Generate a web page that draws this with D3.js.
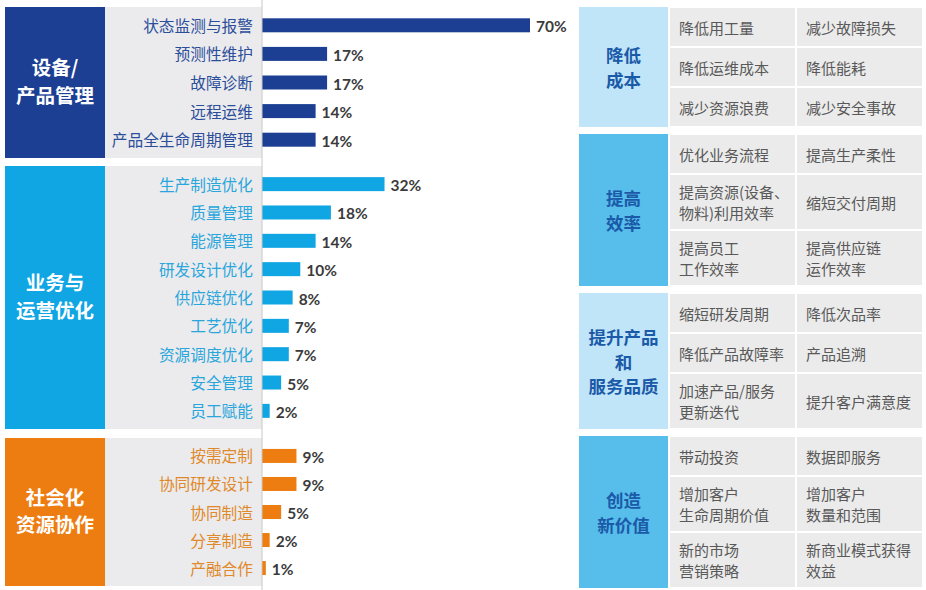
<!DOCTYPE html>
<html>
<head>
<meta charset="utf-8">
<script src="https://cdn.jsdelivr.net/npm/d3@7"></script>
<style>
  body { margin: 0; background: #fff; }
  svg { display: block; font-family: "Noto Sans CJK SC", "Noto Sans", sans-serif; }
</style>
</head>
<body>
<div id="chart"></div>
<script>
var svgWidth = 926;
var svgHeight = 590;

// left side: application scenarios and share of respondents (%)
var groupTitles = [["设备/", "产品管理"], ["业务与", "运营优化"], ["社会化", "资源协作"]];
var deviceLabels = ["状态监测与报警", "预测性维护", "故障诊断", "远程运维", "产品全生命周期管理"];
var deviceValues = [70, 17, 17, 14, 14];
var opsLabels = ["生产制造优化", "质量管理", "能源管理", "研发设计优化", "供应链优化", "工艺优化", "资源调度优化", "安全管理", "员工赋能"];
var opsValues = [32, 18, 14, 10, 8, 7, 7, 5, 2];
var socialLabels = ["按需定制", "协同研发设计", "协同制造", "分享制造", "产融合作"];
var socialValues = [9, 9, 5, 2, 1];

// right side: value table
var benefitTitles = [["降低", "成本"], ["提高", "效率"], ["提升产品", "和", "服务品质"], ["创造", "新价值"]];
var costCells = [["降低用工量", "减少故障损失"], ["降低运维成本", "降低能耗"], ["减少资源浪费", "减少安全事故"]];
var efficiencyCells = [["优化业务流程", "提高生产柔性"], ["提高资源(设备、\n物料)利用效率", "缩短交付周期"], ["提高员工\n工作效率", "提高供应链\n运作效率"]];
var qualityCells = [["缩短研发周期", "降低次品率"], ["降低产品故障率", "产品追溯"], ["加速产品/服务\n更新迭代", "提升客户满意度"]];
var valueCells = [["带动投资", "数据即服务"], ["增加客户\n生命周期价值", "增加客户\n数量和范围"], ["新的市场\n营销策略", "新商业模式获得\n效益"]];

var leftGroups = [
  { title: groupTitles[0], labels: deviceLabels, values: deviceValues, box: "#1c3f94", bar: "#1c3f94", text: "#2b4e9b", y0: 7, y1: 158 },
  { title: groupTitles[1], labels: opsLabels, values: opsValues, box: "#10a5e3", bar: "#10a5e3", text: "#2aa6dc", y0: 166, y1: 429 },
  { title: groupTitles[2], labels: socialLabels, values: socialValues, box: "#ee7d11", bar: "#ee7d11", text: "#e0892a", y0: 438, y1: 586 }
];

var rightGroups = [
  { title: benefitTitles[0], rows: costCells, fill: "#c0e4f8" },
  { title: benefitTitles[1], rows: efficiencyCells, fill: "#57bdea" },
  { title: benefitTitles[2], rows: qualityCells, fill: "#c0e4f8" },
  { title: benefitTitles[3], rows: valueCells, fill: "#57bdea" }
];

var svg = d3.select("#chart")
  .append("svg")
  .attr("width", svgWidth)
  .attr("height", svgHeight);

var axisX = 262;
var xScale = d3.scaleLinear()
  .domain([0, 70])
  .range([axisX, 530]);

// draws a few stacked lines, each its own text element
function stackedText(parent, lines, cx, cy, lineH) {
  parent.selectAll(null)
    .data(lines)
    .enter()
    .append("text")
    .attr("x", cx)
    .attr("y", (d, i) => cy + (i - (lines.length - 1) / 2) * lineH)
    .attr("dominant-baseline", "central")
    .text(d => d);
}

// ---- left panel
leftGroups.forEach(function(g) {
  var gr = svg.append("g");

  gr.append("rect")
    .attr("x", 105).attr("y", g.y0)
    .attr("width", axisX - 105).attr("height", g.y1 - g.y0)
    .attr("fill", "#ebebed");

  gr.append("rect")
    .attr("x", 5).attr("y", g.y0)
    .attr("width", 100).attr("height", g.y1 - g.y0)
    .attr("fill", g.box);

  var titleG = gr.append("g")
    .attr("text-anchor", "middle")
    .attr("fill", "#fff")
    .style("font-size", "19.5px")
    .style("font-weight", "bold");
  stackedText(titleG, g.title, 55, (g.y0 + g.y1) / 2 - 2, 27.5);

  var yScale = d3.scalePoint()
    .domain(g.labels)
    .range([g.y0, g.y1])
    .padding(0.64);

  var rows = g.labels.map((l, i) => ({ label: l, value: g.values[i] }));

  gr.selectAll(".lbl")
    .data(rows)
    .enter()
    .append("text")
    .attr("x", 253)
    .attr("y", d => yScale(d.label))
    .attr("text-anchor", "end")
    .attr("dominant-baseline", "central")
    .attr("fill", g.text)
    .style("font-size", "15.7px")
    .text(d => d.label);

  gr.selectAll(".bar")
    .data(rows)
    .enter()
    .append("rect")
    .attr("x", xScale(0))
    .attr("y", d => yScale(d.label) - 7)
    .attr("width", d => xScale(d.value) - xScale(0))
    .attr("height", 14)
    .attr("fill", g.bar);

  gr.selectAll(".val")
    .data(rows)
    .enter()
    .append("text")
    .attr("x", d => xScale(d.value) + 6)
    .attr("y", d => yScale(d.label) + 1)
    .attr("dominant-baseline", "central")
    .attr("fill", "#3b3b3b")
    .style("font-family", "Lato, 'Noto Sans', sans-serif")
    .style("font-size", "15.5px")
    .style("font-weight", "bold")
    .text(d => d.value + "%");
});

// thin axis line
svg.append("line")
  .attr("x1", axisX).attr("x2", axisX)
  .attr("y1", 0).attr("y2", svgHeight)
  .attr("stroke", "#c8c8c8")
  .attr("stroke-width", 1);

// ---- right panel
var rowH1 = 40, rowH2 = 56, gap = 7;
var boxX = 579, boxW = 89;
var colX = [670, 797], colW = 126;
var y = 7;

rightGroups.forEach(function(g) {
  var gr = svg.append("g");
  var top = y;
  var boxRect = gr.append("rect");
  g.rows.forEach(function(row) {
    var lines = d3.max(row, c => c.split("\n").length);
    var h = lines > 1 ? rowH2 : rowH1;
    row.forEach(function(cell, ci) {
      gr.append("rect")
        .attr("x", colX[ci]).attr("y", y + 1)
        .attr("width", colW - 1).attr("height", h - 2)
        .attr("fill", "#ebebeb");
      var cellG = gr.append("g")
        .attr("fill", "#595959")
        .style("font-size", "15px");
      stackedText(cellG, cell.split("\n"), colX[ci] + 9, y + h / 2, 21);
    });
    y += h;
  });

  boxRect
    .attr("x", boxX).attr("y", top)
    .attr("width", boxW).attr("height", y - top)
    .attr("fill", g.fill);

  var titleG = gr.append("g")
    .attr("text-anchor", "middle")
    .attr("fill", "#1a5aa8")
    .style("font-size", "17.5px")
    .style("font-weight", "bold");
  stackedText(titleG, g.title, boxX + boxW / 2, (top + y) / 2, 24.5);

  y += gap;
});
</script>
</body>
</html>
